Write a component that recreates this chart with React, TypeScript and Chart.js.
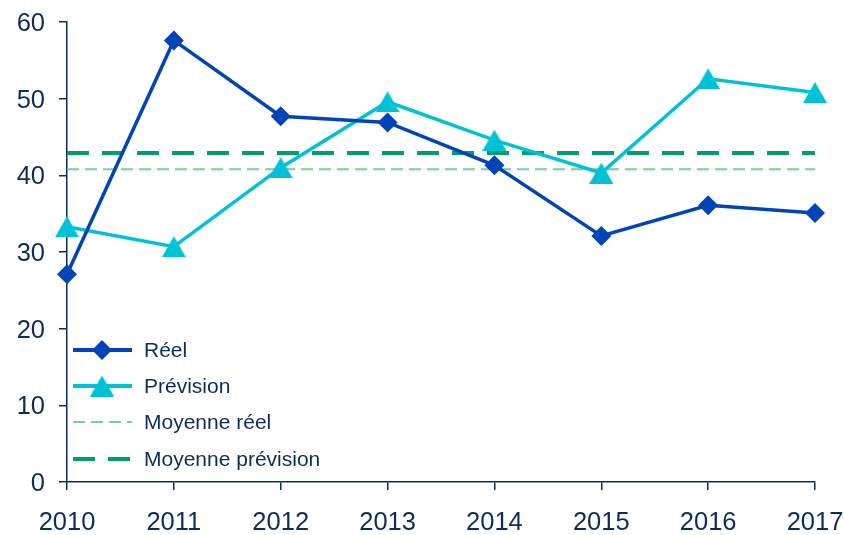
import React, { useEffect, useRef } from "react";
import { Chart, registerables } from "chart.js";

Chart.register(...registerables);

const years = ["2010", "2011", "2012", "2013", "2014", "2015", "2016", "2017"];
const reel = [27.1, 57.6, 47.7, 46.9, 41.3, 32.1, 36.1, 35.1];
const prevision = [33.3, 30.7, 41.0, 49.6, 44.6, 40.3, 52.6, 50.8];
const moyenneReel = 40.8;
const moyennePrevision = 42.9;

const NAVY = "#0c2d5a";
const C_REEL = "#0044b8";
const C_PREV = "#00c2d6";
const C_MREEL = "#74d09c";
const C_MPREV = "#009e6e";
const FONT = "'Liberation Sans', Arial, sans-serif";

function makeTriangle(color: string, w: number, h: number) {
  const c = document.createElement("canvas");
  c.width = w;
  c.height = h;
  const ctx = c.getContext("2d")!;
  ctx.fillStyle = color;
  ctx.beginPath();
  ctx.moveTo(w / 2, 0);
  ctx.lineTo(w, h);
  ctx.lineTo(0, h);
  ctx.closePath();
  ctx.fill();
  return c;
}

export default function App() {
  const ref = useRef<HTMLCanvasElement>(null);

  useEffect(() => {
    if (!ref.current) return;
    const tri = makeTriangle(C_PREV, 24, 21);

    const legendPlugin = {
      id: "customLegend",
      afterDraw(chart: any) {
        const ctx = chart.ctx as CanvasRenderingContext2D;
        const items = [
          { label: "Réel", color: C_REEL, width: 4, dash: [] as number[], marker: "diamond", y: 350 },
          { label: "Prévision", color: C_PREV, width: 4, dash: [] as number[], marker: "triangle", y: 386 },
          { label: "Moyenne réel", color: C_MREEL, width: 2, dash: [12, 6], marker: "", y: 422 },
          { label: "Moyenne prévision", color: C_MPREV, width: 4, dash: [22, 13], marker: "", y: 459 },
        ];
        ctx.save();
        for (const it of items) {
          ctx.strokeStyle = it.color;
          ctx.lineWidth = it.width;
          ctx.setLineDash(it.dash);
          ctx.beginPath();
          ctx.moveTo(73, it.y);
          ctx.lineTo(132, it.y);
          ctx.stroke();
          ctx.setLineDash([]);
          if (it.marker === "diamond") {
            ctx.fillStyle = it.color;
            ctx.beginPath();
            ctx.moveTo(102 - 10, it.y);
            ctx.lineTo(102, it.y - 10);
            ctx.lineTo(102 + 10, it.y);
            ctx.lineTo(102, it.y + 10);
            ctx.closePath();
            ctx.fill();
          } else if (it.marker === "triangle") {
            ctx.drawImage(tri, 102 - tri.width / 2, it.y - tri.height / 2);
          }
          ctx.fillStyle = NAVY;
          ctx.font = `21px ${FONT}`;
          ctx.textBaseline = "middle";
          ctx.textAlign = "left";
          ctx.fillText(it.label, 144, it.y + 1);
        }
        ctx.restore();
      },
    };

    const chart = new Chart(ref.current, {
      type: "line",
      data: {
        labels: years,
        datasets: [
          {
            label: "Réel",
            data: reel,
            borderColor: C_REEL,
            backgroundColor: C_REEL,
            borderWidth: 3.5,
            pointStyle: "rectRot",
            pointRadius: 10,
            pointBorderWidth: 0,
            tension: 0,
            order: 1,
          },
          {
            label: "Prévision",
            data: prevision,
            borderColor: C_PREV,
            backgroundColor: C_PREV,
            borderWidth: 3.5,
            pointStyle: tri as any,
            pointRadius: 12,
            pointBorderWidth: 0,
            tension: 0,
            order: 2,
          },
          {
            label: "Moyenne réel",
            data: years.map(() => moyenneReel),
            borderColor: C_MREEL,
            borderWidth: 2,
            borderDash: [12, 6],
            pointRadius: 0,
            order: 4,
          },
          {
            label: "Moyenne prévision",
            data: years.map(() => moyennePrevision),
            borderColor: C_MPREV,
            borderWidth: 4,
            borderDash: [22, 13],
            pointRadius: 0,
            order: 3,
          },
        ],
      },
      options: {
        animation: false,
        responsive: false,
        events: [],
        layout: { padding: { top: 22, right: 29, left: 0, bottom: 0 } },
        plugins: {
          legend: { display: false },
          tooltip: { enabled: false },
        },
        scales: {
          x: {
            offset: false,
            grid: {
              display: true,
              drawOnChartArea: false,
              drawTicks: true,
              tickLength: 8,
              color: NAVY,
              lineWidth: 1.5,
            },
            border: { color: NAVY, width: 1.5 },
            ticks: {
              color: NAVY,
              font: { family: FONT, size: 25.5 },
              padding: 18,
              maxRotation: 0,
              autoSkip: false,
            },
            afterFit(scale: any) {
              scale.height = 53;
              scale.paddingLeft = 0;
              scale.paddingRight = 0;
            },
          },
          y: {
            min: 0,
            max: 60,
            ticks: {
              stepSize: 10,
              color: NAVY,
              font: { family: FONT, size: 25.5 },
              padding: 14,
              labelOffset: 2,
            },
            grid: {
              display: true,
              drawOnChartArea: false,
              drawTicks: true,
              tickLength: 8,
              color: NAVY,
              lineWidth: 1.5,
            },
            border: { color: NAVY, width: 1.5 },
            afterFit(scale: any) {
              scale.width = 67;
              scale.paddingTop = 0;
              scale.paddingBottom = 0;
            },
          },
        },
      },
      plugins: [legendPlugin],
    });
    return () => chart.destroy();
  }, []);

  return (
    <div style={{ position: "absolute", left: 0, top: 0, width: 844, height: 535, background: "#fff" }}>
      <canvas ref={ref} width={844} height={535} style={{ width: 844, height: 535, display: "block" }} />
    </div>
  );
}
